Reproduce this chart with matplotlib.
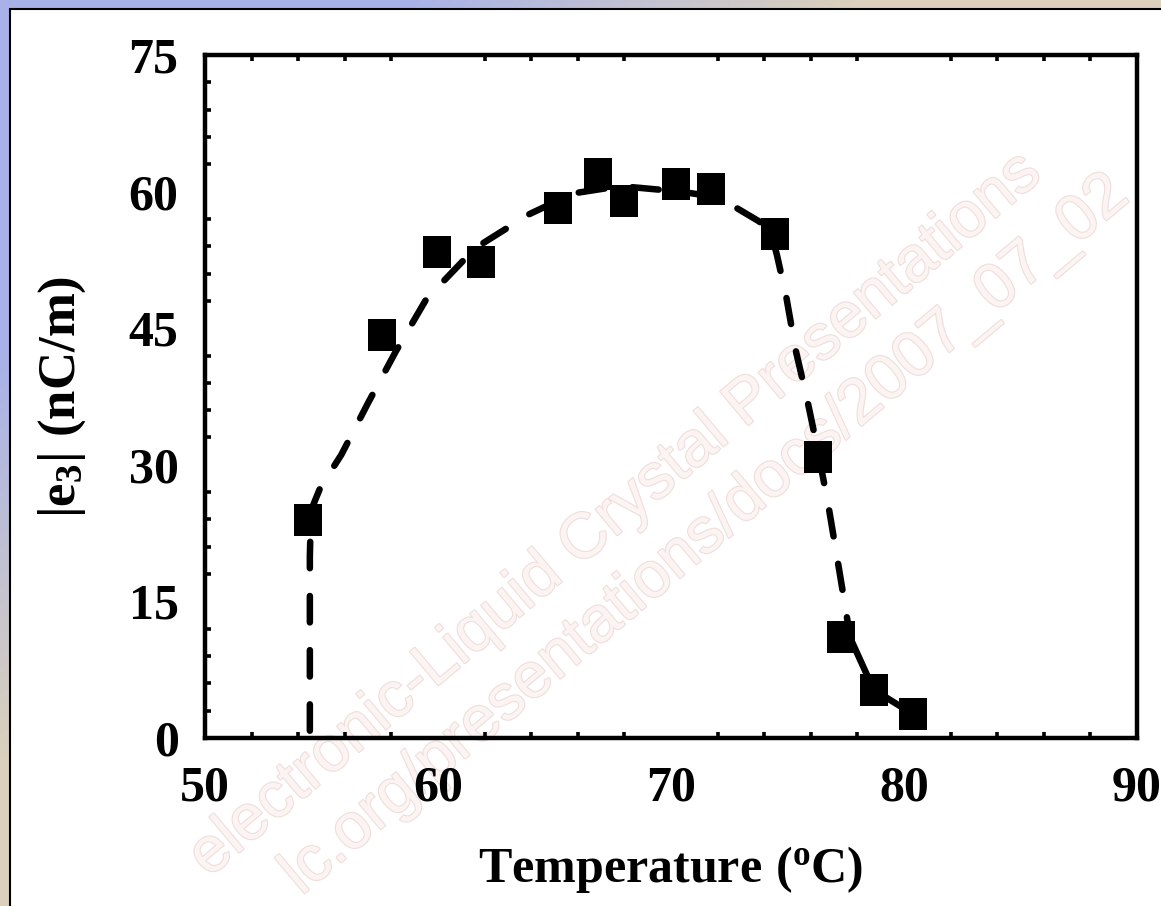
import numpy as np
import matplotlib
matplotlib.use("Agg")
import matplotlib.pyplot as plt
from matplotlib.patches import Rectangle
from matplotlib.path import Path
import matplotlib.patheffects as pe

plt.rcParams['font.family'] = ['Liberation Serif', 'DejaVu Serif']
plt.rcParams['font.weight'] = 'bold'
plt.rcParams['mathtext.fontset'] = 'custom'
plt.rcParams['mathtext.rm'] = 'Liberation Serif:bold'
plt.rcParams['mathtext.it'] = 'Liberation Serif:bold'
plt.rcParams['mathtext.bf'] = 'Liberation Serif:bold'
plt.rcParams['lines.scale_dashes'] = False

# ---- data ----
temp = [54.4, 57.6, 59.95, 61.85, 65.15, 66.85, 68.0, 70.2, 71.7, 74.45, 76.3, 77.3, 78.7, 80.4]
e3 = [23.9, 44.2, 53.4, 52.3, 58.2, 61.9, 59.0, 60.8, 60.3, 55.3, 30.9, 11.1, 5.3, 2.6]

fit_x = [54.5, 54.5, 54.55, 54.95, 55.85, 57.0, 58.2, 59.5, 61.6, 63.9, 65.8, 67.8,
         68.7, 70.4, 71.7, 72.75, 73.8, 74.33, 74.55, 74.95, 75.35, 75.85, 76.3,
         76.75, 77.15, 77.5, 77.7]
fit_y = [0.8, 20.0, 25.0, 27.5, 31.1, 36.8, 42.5, 48.2, 53.8, 57.5, 59.8, 60.6,
         60.4, 60.0, 59.5, 58.3, 56.7, 55.1, 53.0, 48.4, 42.6, 37.1, 31.6,
         25.6, 19.5, 14.1, 10.8]

solid_x = [77.6, 78.7, 80.4]
solid_y = [11.5, 5.3, 2.6]

xticks = [50, 60, 70, 80, 90]
yticks = [0, 15, 30, 45, 60, 75]
xminor = [52, 54, 56, 58, 62, 64, 66, 68, 72, 74, 76, 78, 82, 84, 86, 88]
yminor = list(range(3, 75, 3))

W, H = 1161, 906
fig = plt.figure(figsize=(W / 100, H / 100), dpi=100)

# background gradient (blue at top-left, tan elsewhere)
bg = fig.add_axes([0, 0, 1, 1], zorder=-10)
yy, xx = np.mgrid[0:H:4, 0:W:4]
t = np.clip((xx / 900 + yy / 800 - 0.45) / 0.5, 0, 1)
blue = np.array([168, 178, 232]) / 255
tan = np.array([218, 208, 188]) / 255
img = blue[None, None, :] * (1 - t[..., None]) + tan[None, None, :] * t[..., None]
bg.imshow(img, aspect='auto', extent=[0, 1, 0, 1], origin='upper')
bg.axis('off')

# white panel
panel = Rectangle((10 / W, -0.1), 1.2, 1 - 9 / H + 0.1, transform=fig.transFigure,
                  facecolor='white', edgecolor='black', linewidth=1.5, zorder=-5)
fig.patches.append(panel)

# watermark
wm_fill = '#fbf4f3'
wm_edge = '#efdedb'
wm_fx = [pe.Stroke(linewidth=1.6, foreground=wm_edge), pe.Normal()]
fig.text(615 / W, 1 - 515 / H, 'electronic-Liquid Crystal Presentations',
         rotation=40, rotation_mode='anchor', ha='center', va='center',
         fontsize=46, color=wm_fill, family='Liberation Sans', weight='normal',
         zorder=-1, path_effects=wm_fx)
fig.text(705 / W, 1 - 535 / H, 'lc.org/presentations/docs/2007_07_02',
         rotation=40, rotation_mode='anchor', ha='center', va='center',
         fontsize=46, color=wm_fill, family='Liberation Sans', weight='normal',
         zorder=-1, path_effects=wm_fx)

ax = fig.add_axes([205 / W, 1 - 738 / H, (1137 - 205) / W, (738 - 55) / H])
ax.set_facecolor('none')

ax.plot(fit_x, fit_y, color='black', lw=4.7, dashes=(19, 20),
        dash_capstyle='round', solid_capstyle='round', zorder=2)
ax.plot(solid_x, solid_y, color='black', lw=4.7, solid_capstyle='round', zorder=2)

sq = Path([(-0.45, -0.5), (0.45, -0.5), (0.45, 0.5), (-0.45, 0.5), (-0.45, -0.5)],
          [Path.MOVETO, Path.LINETO, Path.LINETO, Path.LINETO, Path.CLOSEPOLY])
ax.plot(temp, e3, linestyle='none', marker=sq, markersize=22.5, color='black',
        markeredgewidth=0, zorder=3)

ax.set_xlim(50, 90)
ax.set_ylim(0, 75)
ax.set_xticks(xticks)
ax.set_yticks(yticks)
ax.set_xticks(xminor, minor=True)
ax.set_yticks(yminor, minor=True)
ax.tick_params(which='major', length=0, labelsize=36, pad=19)
ax.tick_params(axis='x', which='major', pad=20)
ax.tick_params(which='minor', direction='in', length=4, width=2.6,
               top=True, right=False, bottom=True, left=True)
for s in ax.spines.values():
    s.set_linewidth(3.2)

ax.set_xlabel(r'$\mathrm{Temperature\ (^oC)}$', fontsize=36)
ax.xaxis.set_label_coords(0.5, -0.155)
ax.set_ylabel(r'$\mathrm{|e_3|\ (nC/m)}$', fontsize=38)
ax.yaxis.set_label_coords(-0.1255, 0.5)

fig.savefig('out.png', dpi=100)
